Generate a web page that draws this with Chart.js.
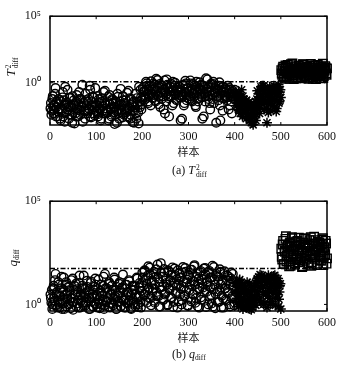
<!DOCTYPE html>
<html><head><meta charset="utf-8">
<script src="https://cdn.jsdelivr.net/npm/chart.js@4/dist/chart.umd.min.js"></script>
<style>
body{margin:0;background:#fff;width:349px;height:370px;overflow:hidden;position:relative;font-family:"Liberation Serif",serif;color:#111}
.box{position:absolute;left:0;width:349px;height:185px}
#b1{top:0} #b2{top:185px}
.ylab{position:absolute;transform:translate(-50%,-50%) rotate(-90deg);white-space:nowrap;font-size:13px;line-height:1}
.cap{position:absolute;font-size:12px;white-space:nowrap;line-height:1;transform:translateY(-50%)}
.ss{display:inline-block;vertical-align:middle;line-height:0.95;font-size:7.5px;font-style:normal;margin-left:1px}
.ss span{display:block}
.sb{font-size:7.5px;font-style:normal;vertical-align:-2px}
</style></head>
<body>
<div class="box" id="b1"><canvas id="c1" width="349" height="185"></canvas></div>
<div class="box" id="b2"><canvas id="c2" width="349" height="185"></canvas></div>
<div class="ylab" style="left:12px;top:67px"><i>T</i><span class="ss"><span>2</span><span>diff</span></span></div>
<div class="ylab" style="left:13px;top:258px"><i>q</i><span class="sb">diff</span></div>
<div class="cap" style="left:172px;top:171px">(a) <i>T</i><span class="ss"><span>2</span><span>diff</span></span></div>
<div class="cap" style="left:172px;top:355px">(b) <i>q</i><span class="sb">diff</span></div>
<script>
// samples: "even" arrays start at 2, "odd" arrays start at 1, step 2
const sampleStep = 2;
const circleFirstEven = 2, starFirstEven = 402, squareFirstEven = 502;
const circleFirstOdd = 1, starFirstOdd = 401, squareFirstOdd = 501;
const xTicks = [0, 100, 200, 300, 400, 500, 600];
const yTickValues = [1, 1e5];
const yTickLabels = ['10\u2070', '10\u2075'];
const xAxisTitle = '样本';

// (a) T2_diff
const t2CirclesEven = [
3e-2,8e-3,1e-1,5e-3,2e-2,4e-1,1.5e-2,3e-3,6e-2,1e-2,
2e-3,4e-2,9e-3,2e-1,5e-2,1.2e-3,2.5e-2,7e-3,3e-1,1.5e-2,
4e-3,8e-2,2e-2,1e-3,6e-3,5e-2,1.8e-2,3e-3,1.2e-1,9e-3,
2.5e-2,6e-2,4e-3,1.5e-2,7e-1,3e-2,1e-2,2e-3,5e-2,8e-3,
4e-2,1.2e-2,6e-1,3e-3,2e-2,9e-2,5e-3,1.5e-2,4e-1,7e-3,
2e-2,3e-3,6e-2,1e-2,1.5e-3,4e-2,8e-3,2e-1,3e-2,5e-3,
1.2e-2,6e-3,9e-2,2e-3,2.5e-2,1e-2,4e-3,5e-2,1.5e-2,8e-4,
3e-2,7e-3,1.5e-1,1e-2,2e-3,4e-2,6e-3,2e-2,1e-1,4e-3,
1.8e-2,5e-2,3e-3,9e-3,2.5e-1,1.2e-2,2e-3,6e-2,8e-3,3e-2,
1e-3,1.5e-2,5e-3,7e-2,2e-2,9e-4,4e-2,3e-1,1e-2,6e-2,
2e-1,5e-1,8e-2,1.2,3e-1,4e-2,1e-1,6e-1,2e-2,1.5e-1,
7e-2,9e-1,3e-1,5e-2,2,1.2e-1,4e-1,2.5e-2,8e-1,1.8e-1,
6e-2,3e-1,1e-2,1.5,2e-1,4e-2,7e-1,1e-1,3e-3,5e-1,
9e-2,2.5e-1,1.2,3e-2,6e-1,1.5e-1,5e-2,4e-1,2e-1,8e-2,
3e-1,1e-1,2e-3,7e-1,2e-2,1.8e-1,9e-1,5e-2,3.5e-1,1.2e-1,
6e-2,1.5,2.5e-1,4e-2,8e-1,1e-1,3e-1,1.5e-2,5e-1,2e-1,
7e-2,1.1,3e-1,9e-2,2e-3,6e-1,1.5e-1,4e-2,2.2,2e-1,
1e-1,5e-1,3e-2,8e-1,2.5e-1,6e-2,1.2,1.8e-1,4e-1,1e-3,
3e-1,9e-2,6e-1,2e-2,1.5e-1,4.5e-1,8e-3,2e-1,7e-2,1e-1,
3e-1,5e-2,1.5e-1,4e-1,2e-2,1e-1,5e-3,2.5e-1,6e-2,3e-1];
const t2CirclesOdd = [
1.2e-2,4e-3,6e-2,2e-2,9e-3,1.5e-1,3e-3,4e-2,7e-3,2.5e-2,
5e-2,1.5e-3,1.2e-2,8e-2,3e-3,2e-2,5e-1,6e-3,3e-2,1e-2,
2e-3,7e-2,1.5e-2,4e-3,1e-1,2.5e-2,9e-4,5e-3,4e-2,1.2e-2,
3e-3,2e-1,8e-3,6e-2,1.8e-2,1.2e-3,3.5e-2,7e-3,1.5e-1,2e-2,
5e-3,6e-2,1.1e-2,3e-1,2.5e-3,4e-2,1.5e-2,8e-2,3.5e-3,2e-2,
9e-3,1e-1,4.5e-3,3e-2,1.2e-2,2e-3,7e-2,1.8e-2,5e-3,2.5e-1,
2.2e-2,8e-3,4e-2,1.5e-3,1.2e-1,1e-2,3e-3,6e-2,2.8e-2,6e-3,
1.5e-2,4e-2,1e-3,9e-2,5e-3,2e-2,3.5e-1,8e-3,2.5e-3,5e-2,
1e-2,3e-2,6e-3,1.8e-1,1.3e-2,2.5e-3,7e-2,4e-3,2.2e-2,1.1e-3,
4e-2,9e-3,1.5e-1,2e-3,3e-2,6e-3,5e-1,1.5e-2,8e-2,2.5e-2,
4e-1,1e-1,2.5e-1,6e-2,9e-1,1.5e-1,3e-2,5e-1,2e-1,1.3,
8e-2,3.5e-1,1.2e-1,7e-1,4e-2,2.5e-1,1.6,9e-2,5e-1,1.5e-2,
2e-1,6e-1,1e-1,3e-1,5e-3,1.2e-1,1.8,4e-1,7e-2,2.2e-1,
1e-1,8e-1,2e-2,4.5e-1,1.5e-1,1,6e-2,3e-1,2.8e-1,1.2e-1,
5e-1,1.5e-3,2e-1,9e-2,6e-1,3e-2,1.4,1.8e-1,4e-1,7e-2,
2.5e-1,1e-1,9e-1,5e-2,3e-1,1.6e-1,6e-1,2e-2,1.2,2e-1,
4e-2,4e-1,1.3e-1,7e-1,8e-2,2.5e-1,3e-3,5e-1,1e-1,3.5e-1,
1.8,6e-2,2.2e-1,1e-2,4.5e-1,1.4e-1,8e-1,3e-2,2e-1,6e-1,
1e-1,3e-1,5e-2,1.1,1.5e-3,2.5e-1,7e-2,5e-1,1.2e-1,4e-1,
2e-1,8e-2,6e-1,1e-2,3e-1,1.5e-1,4e-2,2e-1,9e-2,1.5e-1];
const t2StarsEven = [
2e-1,3e-2,8e-2,1e-2,1.5e-1,5e-3,4e-2,2e-2,1e-1,6e-3,
3e-2,8e-3,5e-2,3e-3,1.5e-2,2e-3,2.5e-2,1e-3,8e-3,7e-4,
4e-3,2e-2,1.5e-3,6e-2,1e-2,1.5e-1,5e-3,3e-1,4e-2,6e-1,
2e-1,1e-2,4e-1,5e-2,1e-3,1.2e-1,3e-2,5e-1,8e-3,2e-1,
6e-2,4e-1,1.5e-2,2.5e-1,7e-3,1e-1,5e-1,3e-2,2e-1,8e-2];
const t2StarsOdd = [
1e-1,5e-2,2e-2,1.2e-1,8e-3,4e-2,1.5e-2,3e-1,3e-3,6e-2,
1e-2,4e-2,2e-3,2e-2,5e-3,3.5e-2,1.5e-3,1.2e-2,3e-3,1e-3,
1.2e-2,3e-3,4e-2,8e-3,2.5e-1,2.5e-2,8e-2,1.5e-2,5e-1,1e-1,
5e-2,6e-1,3e-2,1.5e-1,1.2e-2,3e-1,6e-3,8e-2,2.5e-1,4e-2,
1.5e-1,2e-2,6e-1,5e-2,3e-1,1.2e-2,2e-1,7e-1,4e-2,3e-1];
const t2SquaresEven = [
5,12,3,8,20,2,6,15,4,10,
25,3.5,7,1.9,12,5,18,2.5,9,6,
14,2.2,8,25,4,11,3,6,16,2,
7,20,4.5,10,2.6,13,5.5,1.9,9,22,
3.5,7,15,4,11,2.3,8,18,5,12];
const t2SquaresOdd = [
9,4,16,2.5,7,13,3,22,5.5,2,
10,6,28,3.5,8,15,2.2,11,4,19,
6.5,2.8,12,5,24,3,9,17,2.4,7.5,
14,3.8,26,6,2,10,4.2,20,8.5,3,
12,5,2.2,17,6.5,27,3.2,9.5,14,4];
const t2Limit = 1.2;

// (b) q_diff
const qCirclesEven = [
2,5,1,8,1.5,30,3,0.7,12,2.5,
1.2,6,0.6,4,20,1.8,9,0.8,3.5,1,
7,2,15,1.3,0.55,5,2.8,10,1.1,4,
0.7,25,3,1.6,8,0.9,6,2.2,1.2,14,
4.5,0.6,2,11,1.4,3,0.8,7,18,1,
2.5,5.5,1.2,0.65,9,3.5,1.7,22,0.9,6,
1.3,4,2,12,0.7,3,8,1.1,1.8,16,
5,0.6,2.6,1.4,10,3.8,0.85,6.5,28,1.5,
2,0.7,9,4,1.2,13,2.8,0.6,5,1.6,
7.5,1,3.2,20,0.75,2.2,11,1.3,4.5,35,
8,40,3,15,1.2,25,6,60,2,12,
4,30,1.5,9,50,2.5,18,0.8,7,100,
5,22,1.8,35,3.5,11,0.9,45,6,14,
2.2,28,8,1.3,55,4,16,0.7,10,32,
3,20,1.6,65,7,2.8,38,12,0.9,25,
5,48,1.4,15,3.2,70,9,2,30,0.8,
18,6,42,1.7,11,26,3.8,58,0.75,13,
8,35,2.4,20,1.1,75,5.5,16,0.65,30,
4.2,22,1.3,50,9,2.6,14,0.7,40,6,
1.5,25,3.5,11,0.8,18,2,30,7,1.2];
const qCirclesOdd = [
3,1.2,0.6,6,2,15,0.9,4,1.5,9,
0.7,2.5,22,1.1,5,0.6,3,12,1.8,7,
1,4.5,0.65,2,18,1.3,8,3,0.8,5.5,
1.6,11,0.7,2.8,6,1.2,25,3.5,0.9,2,
7,1.4,4,0.6,13,2.2,0.8,5,1.1,9,
3,0.7,16,1.8,4.5,1,2.6,8,0.6,30,
1.5,6,2,0.75,10,3.2,1.2,5,0.9,20,
2.4,0.6,7,1.3,3.8,12,0.8,2,6,1.6,
0.7,9,2.8,1.1,4,15,1.5,0.65,3.5,8,
1.2,5,0.8,2.2,18,1,6.5,2.6,0.7,11,
20,3,45,1.5,10,5,70,2,28,0.9,
14,6,38,1.2,22,4,85,2.5,12,0.8,
33,7,1.6,52,3,18,9,1,40,5,
15,2,62,0.75,11,26,3.5,8,45,1.4,
20,6,1,35,12,2.4,58,4.5,16,0.85,
27,9,1.8,48,3,13,80,1.2,22,5,
10,0.7,36,2.2,17,6.5,55,1.5,28,4,
12,1,42,7,2.8,20,0.8,65,9,3.2,
24,1.3,15,5,38,0.7,11,2,30,6,
1.8,14,4,22,1,9,35,2.5,12,0.9];
const qStarsEven = [
10,2,5,0.8,14,3,1.2,8,0.6,4,
1.5,7,0.7,3.5,1,10,2,0.55,5,1.3,
2.5,8,0.9,15,4,22,1.5,12,25,6,
3,18,1.2,9,0.7,14,4.5,2,20,7,
1.4,24,5,0.9,12,3,18,1.8,8,0.6];
const qStarsOdd = [
4,12,1.2,7,2.5,16,0.9,5,10,1.8,
6,0.8,3,12,1.4,4.5,0.6,8,2.5,0.7,
1.5,5,11,2,18,3,7,28,1.2,15,
8,1,22,4,12,2.5,26,6,1,10,
16,3.5,9,26,2,6,14,0.8,4,10];
const qSquaresEven = [
200,800,90,400,1500,120,600,250,70,1000,
300,1800,150,500,85,700,220,1200,110,450,
950,180,65,350,1600,130,550,280,800,100,
1300,240,75,650,400,1900,160,500,95,1100,
330,140,750,210,1400,80,600,270,900,170];
const qSquaresOdd = [
500,150,1200,90,350,2000,220,700,120,900,
75,450,1600,260,600,100,1100,180,400,1700,
140,800,300,70,1000,230,1500,160,550,85,
700,380,1800,110,320,900,190,1300,450,80,
600,1000,250,130,850,1600,200,420,1200,95];
const qLimit = 55;

function pts(vals, first){ return vals.map((v,i)=>({x:first+i*sampleStep, y:v})); }

const framePlugin = {
  id:'frame',
  beforeDatasetsDraw(chart){
    const {ctx, chartArea:a, scales:{x,y}} = chart;
    ctx.save();
    ctx.strokeStyle='#000'; ctx.lineWidth=1.5;
    ctx.strokeRect(a.left, a.top, a.right-a.left, a.bottom-a.top);
    ctx.lineWidth=1;
    ctx.beginPath();
    x.ticks.forEach(t=>{const p=x.getPixelForValue(t.value);
      ctx.moveTo(p,a.bottom); ctx.lineTo(p,a.bottom-3);
      ctx.moveTo(p,a.top); ctx.lineTo(p,a.top+3);});
    y.ticks.forEach(t=>{const p=y.getPixelForValue(t.value);
      ctx.moveTo(a.left,p); ctx.lineTo(a.left+3,p);
      ctx.moveTo(a.right,p); ctx.lineTo(a.right-3,p);});
    ctx.stroke();
    ctx.restore();
  }
};

function makeChart(id, s, limit, ymin, padBottom){
  const black = '#000';
  const sq = {pointStyle:'rect', pointRadius:6, borderColor:black, backgroundColor:'rgba(255,255,255,0)', borderWidth:1.4, clip:false};
  const st = {pointStyle:'star', pointRadius:5, borderColor:black, backgroundColor:black, borderWidth:1.5, clip:false};
  const ci = {pointStyle:'circle', pointRadius:4.3, borderColor:black, backgroundColor:'rgba(255,255,255,0)', borderWidth:1.4, clip:false};
  new Chart(document.getElementById(id), {
    type:'scatter',
    data:{datasets:[
      Object.assign({data:pts(s.sqE, squareFirstEven)}, sq),
      Object.assign({data:pts(s.sqO, squareFirstOdd)}, sq),
      {type:'line', data:[{x:xTicks[0],y:limit},{x:xTicks[xTicks.length-1],y:limit}], borderColor:black, borderWidth:1.6, borderDash:[5,2,1.5,2], pointRadius:0, fill:false},
      Object.assign({data:pts(s.stE, starFirstEven)}, st),
      Object.assign({data:pts(s.stO, starFirstOdd)}, st),
      Object.assign({data:pts(s.ciE, circleFirstEven)}, ci),
      Object.assign({data:pts(s.ciO, circleFirstOdd)}, ci)
    ]},
    options:{
      responsive:false, animation:false, devicePixelRatio:1,
      layout:{padding:{left:0,right:22,top:9,bottom:padBottom}},
      plugins:{legend:{display:false}, tooltip:{enabled:false}},
      scales:{
        x:{type:'linear', min:xTicks[0], max:xTicks[xTicks.length-1],
           afterBuildTicks:sc=>{sc.ticks = xTicks.map(v=>({value:v}));},
           afterFit:sc=>{sc.height = 33.6;},
           grid:{display:false, drawTicks:false}, border:{display:false},
           ticks:{padding:5, color:'#111', font:{family:'Liberation Serif', size:12}, maxRotation:0},
           title:{display:true, text:xAxisTitle, color:'#222', padding:{top:0,bottom:0}, font:{family:'Noto Sans CJK SC', size:11, lineHeight:1.2}}},
        y:{type:'logarithmic', min:ymin, max:1e5,
           afterBuildTicks:sc=>{sc.ticks = yTickValues.map(v=>({value:v}));},
           afterFit:sc=>{sc.width = 50;},
           grid:{display:false, drawTicks:false}, border:{display:false},
           ticks:{padding:9, color:'#111', font:{family:'Liberation Serif', size:12},
             callback:(v)=>{const i = yTickValues.indexOf(v); return i>=0 ? yTickLabels[i] : '';}}}
      }
    },
    plugins:[framePlugin]
  });
}

makeChart('c1', {ciE:t2CirclesEven, ciO:t2CirclesOdd, stE:t2StarsEven, stO:t2StarsOdd, sqE:t2SquaresEven, sqO:t2SquaresOdd}, t2Limit, 6.8e-4, 26.4);
makeChart('c2', {ciE:qCirclesEven, ciO:qCirclesOdd, stE:qStarsEven, stO:qStarsOdd, sqE:qSquaresEven, sqO:qSquaresOdd}, qLimit, 0.48, 25.4);
</script>
</body></html>
